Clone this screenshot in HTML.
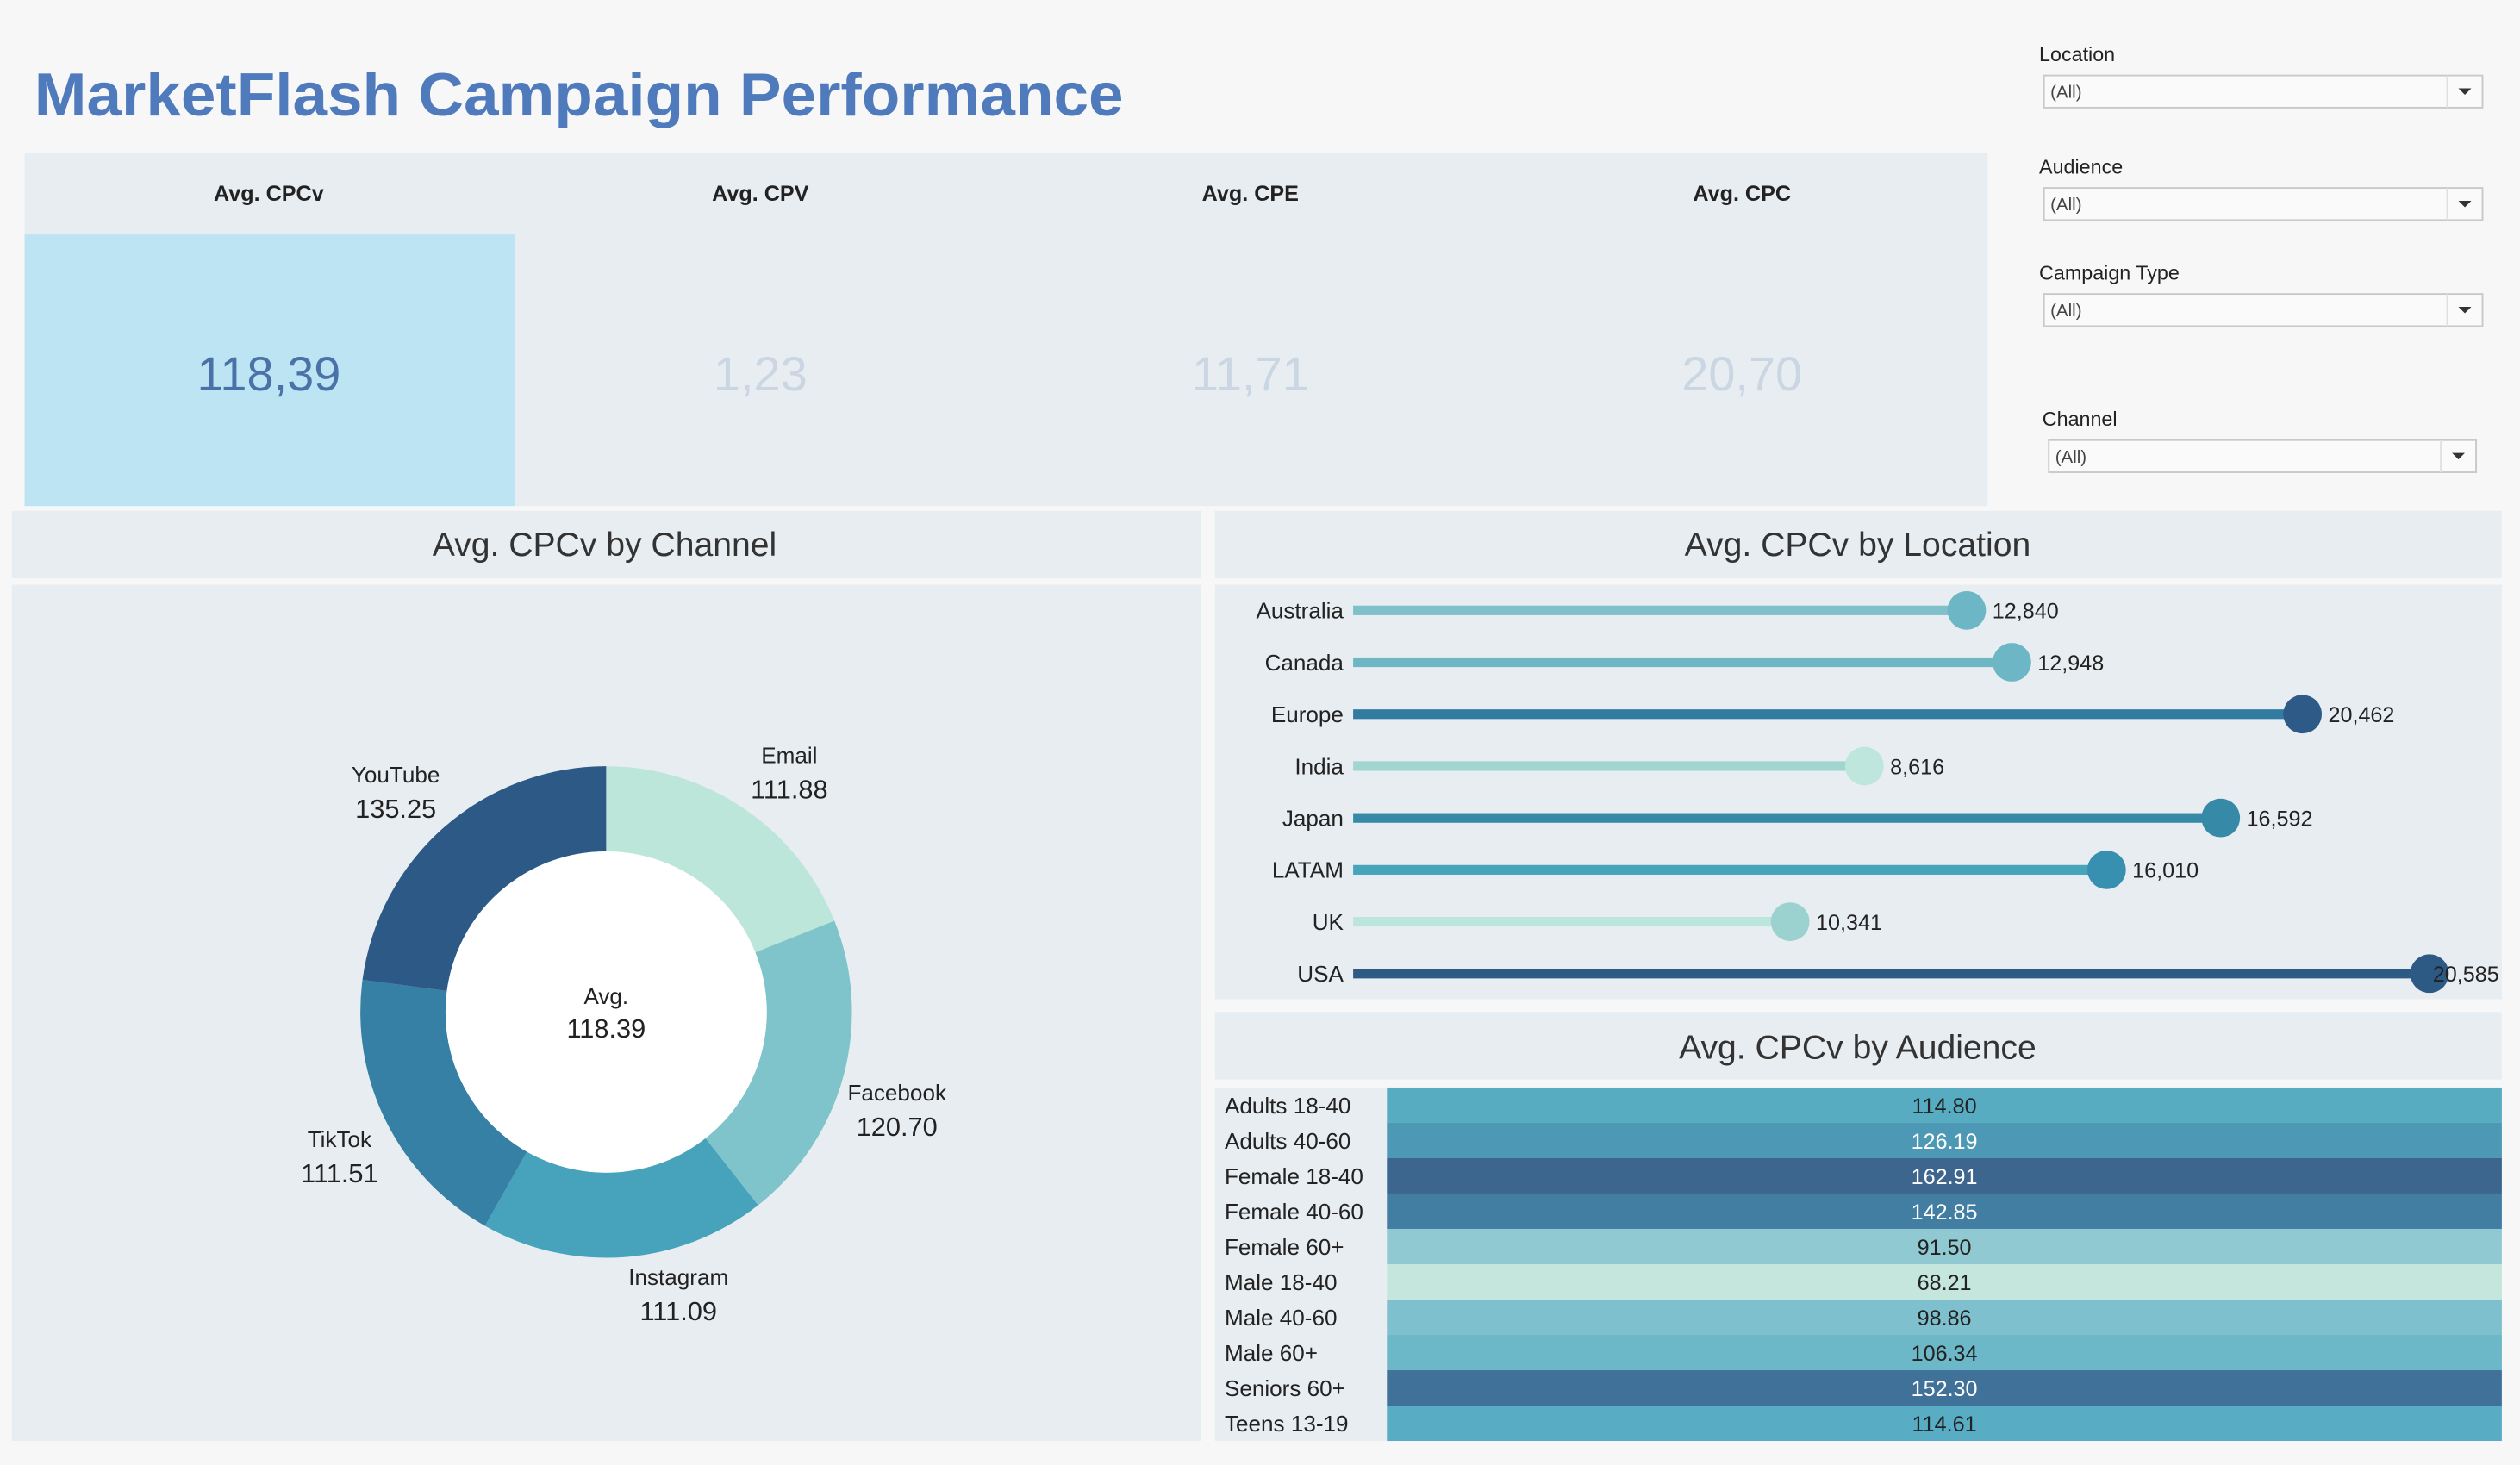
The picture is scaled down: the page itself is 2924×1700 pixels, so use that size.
<!DOCTYPE html>
<html><head><meta charset="utf-8"><style>
html,body{margin:0;padding:0;background:#f7f7f7;}
svg{display:block;font-family:"Liberation Sans",sans-serif;}
</style></head><body>
<svg id="root" width="2924" height="1700" viewBox="0 0 1568 912" xmlns="http://www.w3.org/2000/svg">
<rect x="0" y="0" width="1568" height="912" fill="#f7f7f7"/>
<text x="21" y="72" font-size="38" font-weight="bold" fill="#4f7bbd" textLength="678" lengthAdjust="spacingAndGlyphs">MarketFlash Campaign Performance</text>

<g>
<rect x="15" y="95" width="1222" height="220" fill="#e8edf1"/>
<rect x="15" y="146" width="305" height="169" fill="#bce4f2"/>
<g font-size="13.5" font-weight="bold" fill="#222" text-anchor="middle">
<text x="167" y="125">Avg. CPCv</text>
<text x="473" y="125">Avg. CPV</text>
<text x="778" y="125">Avg. CPE</text>
<text x="1084" y="125">Avg. CPC</text>
</g>
<g font-size="30" text-anchor="middle">
<text x="167" y="243" fill="#4a72a8">118,39</text>
<text x="473" y="243" fill="#cbd6e3">1,23</text>
<text x="778" y="243" fill="#cbd6e3">11,71</text>
<text x="1084" y="243" fill="#cbd6e3">20,70</text>
</g>
</g>

<g id="filters" font-size="12.5" fill="#222"></g>

<g>
<rect x="7" y="318" width="740" height="42" fill="#e8edf1"/>
<text x="376" y="346" font-size="21" text-anchor="middle" fill="#333">Avg. CPCv by Channel</text>
<rect x="7" y="364" width="740" height="533" fill="#e8edf1"/>
<g id="donut"></g>
</g>

<g>
<rect x="756" y="318" width="801" height="42" fill="#e8edf1"/>
<text x="1156" y="346" font-size="21" text-anchor="middle" fill="#333">Avg. CPCv by Location</text>
<rect x="756" y="364" width="801" height="258" fill="#e8edf1"/>
<g id="lollipop"></g>
</g>

<g>
<rect x="756" y="630" width="801" height="42" fill="#e8edf1"/>
<text x="1156" y="659" font-size="21" text-anchor="middle" fill="#333">Avg. CPCv by Audience</text>
<rect x="756" y="677" width="801" height="220" fill="#e8edf1"/>
<g id="heat"></g>
</g>
</svg>
<script>
const NS="http://www.w3.org/2000/svg";
const filterLabels=["Location","Audience","Campaign Type","Channel"];
const channels=["Email","Facebook","Instagram","TikTok","YouTube"];
const channelValues=[111.88,120.70,111.09,111.51,135.25];
const channelLabels=["111.88","120.70","111.09","111.51","135.25"];
const overallAvg="118.39";
const locations=["Australia","Canada","Europe","India","Japan","LATAM","UK","USA"];
const locationBarValues=[57.0,61.2,88.2,47.5,80.6,70.0,40.6,100];
const locationLabels=["12,840","12,948","20,462","8,616","16,592","16,010","10,341","20,585"];
const audiences=["Adults 18-40","Adults 40-60","Female 18-40","Female 40-60","Female 60+","Male 18-40","Male 40-60","Male 60+","Seniors 60+","Teens 13-19"];
const audienceValues=[114.80,126.19,162.91,142.85,91.50,68.21,98.86,106.34,152.30,114.61];

function mk(tag,attrs,parent,txt){const e=document.createElementNS(NS,tag);for(const k in attrs)e.setAttribute(k,attrs[k]);if(txt!==undefined)e.textContent=txt;parent.appendChild(e);return e;}

// filters
const fg=document.getElementById('filters');
const fpos=[[1269,1272,38,47,273],[1269,1272,108,117,273],[1269,1272,174,183,273],[1271,1275,265,274,266]];
filterLabels.forEach((l,i)=>{
  const p=fpos[i];
  const t=mk('text',{x:p[0],y:p[2]},fg,l);
  
  
  const g=mk('g',{},fg);
  
  
  mk('rect',{x:p[1],y:p[3],width:p[4],height:20,fill:'#fafafa',stroke:'#c8c8c8','stroke-width':1},g);
  mk('line',{x1:p[1]+p[4]-22,y1:p[3],x2:p[1]+p[4]-22,y2:p[3]+20,stroke:'#e0e0e0'},g);
  mk('text',{x:p[1]+4,y:p[3]+14,'font-size':11,fill:'#444'},g,'(All)');
  const ax=p[1]+p[4]-11,ay=p[3]+9;
  mk('path',{d:`M${ax-4},${ay-1}L${ax+4},${ay-1}L${ax},${ay+3}Z`,fill:'#333'},g);
});

// donut
const dg=document.getElementById('donut');
const cx=377,cy=630,R=153,r=100;
const dColors=["#bde6db","#7fc3cb","#46a3bb","#3580a4","#2c5985"];
const total=channelValues.reduce((a,b)=>a+b,0);
let a0=0;
const lblPos=[[491,470],[558,680],[422,795],[211,709],[246,482]];
channelValues.forEach((v,i)=>{
  const a1=a0+v/total*Math.PI*2;
  const p=(a,rr)=>[cx+rr*Math.sin(a),cy-rr*Math.cos(a)];
  const [x0,y0]=p(a0,R),[x1,y1]=p(a1,R),[x2,y2]=p(a1,r),[x3,y3]=p(a0,r);
  const lg=(a1-a0)>Math.PI?1:0;
  const s=mk('path',{d:`M${x0},${y0}A${R},${R} 0 ${lg} 1 ${x1},${y1}L${x2},${y2}A${r},${r} 0 ${lg} 0 ${x3},${y3}Z`,fill:dColors[i]},dg);
  
  
  const lp=lblPos[i];
  const t1=mk('text',{x:lp[0],y:lp[1]+5,'font-size':14,'text-anchor':'middle',fill:'#222'},dg,channels[i]);
  
  
  const t2=mk('text',{x:lp[0],y:lp[1]+27,'font-size':16.5,'text-anchor':'middle',fill:'#222'},dg,channelLabels[i]);
  
  
  a0=a1;
});
const hole=mk('circle',{cx:cx,cy:cy,r:r,fill:'#fff'},dg);


const c1=mk('text',{x:cx,y:cy-5,'font-size':14,'text-anchor':'middle',fill:'#222'},dg,'Avg.');


const c2=mk('text',{x:cx,y:cy+16,'font-size':16.5,'text-anchor':'middle',fill:'#222'},dg,overallAvg);



// lollipop
const lg2=document.getElementById('lollipop');
const x0=842,x1=1512,maxV=Math.max(...locationBarValues);
const xs=v=>x0+(x1-x0)*v/maxV;
const ys=i=>380+i*32.3;
const barC=["#7fc0ca","#6db7c4","#337aa0","#a0d5d0","#3789a8","#46a4bb","#bce5db","#2d5985"];
const dotC=["#6cb6c5","#6cb6c5","#2e5a87","#bfe6dc","#3789a8","#3790b0","#9bd2cf","#2d5985"];
locations.forEach((l,i)=>{
  const y=ys(i),xe=xs(locationBarValues[i]);
  const t=mk('text',{x:836,y:y+5,'font-size':14,'text-anchor':'end',fill:'#222'},lg2,l);
  
  
  const b=mk('rect',{x:x0,y:y-3,width:xe-x0,height:6,fill:barC[i]},lg2);
  
  
  const d=mk('circle',{cx:xe,cy:y,r:12,fill:dotC[i]},lg2);
  
  
  const v=mk('text',{x:Math.min(xe+16,1514),y:y+5,'font-size':13.5,fill:'#222'},lg2,locationLabels[i]);
  
  
});

// heatmap
const hg=document.getElementById('heat');
const vmin=Math.min(...audienceValues),vmax=Math.max(...audienceValues);
const stops=[[196,230,220],[143,201,209],[86,171,194],[67,129,166],[61,102,143]];
function col(v){const t=(v-vmin)/(vmax-vmin)*(stops.length-1);const k=Math.min(Math.floor(t),stops.length-2);const f=t-k;const a=stops[k],b=stops[k+1];return 'rgb('+a.map((c,j)=>Math.round(c+(b[j]-c)*f)).join(',')+')';}
audiences.forEach((a,i)=>{
  const y=677+i*22;
  const t=mk('text',{x:762,y:y+16,'font-size':14,fill:'#222'},hg,a);
  
  
  const v=audienceValues[i];
  const c=mk('rect',{x:863,y:y,width:694,height:22,fill:col(v)},hg);
  
  
  const dark=(v-vmin)/(vmax-vmin)>0.6;
  const vt=mk('text',{x:1210,y:y+16,'font-size':13.5,'text-anchor':'middle',fill:dark?'#fff':'#222'},hg,v.toFixed(2));
  
  
});
</script>
</body></html>
